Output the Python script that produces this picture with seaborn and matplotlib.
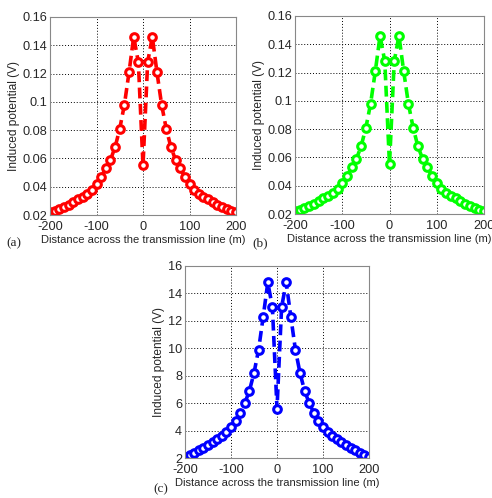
import numpy as np
import pandas as pd
import matplotlib
matplotlib.use("Agg")
import matplotlib.pyplot as plt
import seaborn as sns

# Data
distance = [-200, -190, -180, -170, -160, -150, -140, -130, -120, -110, -100,
            -90, -80, -70, -60, -50, -40, -30, -20, -10, 0,
            10, 20, 30, 40, 50, 60, 70, 80, 90, 100,
            110, 120, 130, 140, 150, 160, 170, 180, 190, 200]
potential_a = [0.022, 0.023, 0.024, 0.026, 0.027, 0.029, 0.031, 0.033, 0.035, 0.038, 0.042,
               0.047, 0.053, 0.059, 0.068, 0.081, 0.098, 0.121, 0.146, 0.128, 0.055,
               0.128, 0.146, 0.121, 0.098, 0.081, 0.068, 0.059, 0.053, 0.047, 0.042,
               0.038, 0.035, 0.033, 0.031, 0.029, 0.027, 0.026, 0.024, 0.023, 0.022]
potential_b = [0.022, 0.023, 0.024, 0.026, 0.027, 0.029, 0.031, 0.033, 0.035, 0.038, 0.042,
               0.047, 0.053, 0.059, 0.068, 0.081, 0.098, 0.121, 0.146, 0.128, 0.055,
               0.128, 0.146, 0.121, 0.098, 0.081, 0.068, 0.059, 0.053, 0.047, 0.042,
               0.038, 0.035, 0.033, 0.031, 0.029, 0.027, 0.026, 0.024, 0.023, 0.022]
potential_c = [2.1, 2.25, 2.4, 2.6, 2.75, 2.95, 3.15, 3.35, 3.6, 3.9, 4.25,
               4.7, 5.3, 6.0, 6.9, 8.2, 9.9, 12.3, 14.8, 13.0, 5.6,
               13.0, 14.8, 12.3, 9.9, 8.2, 6.9, 6.0, 5.3, 4.7, 4.25,
               3.9, 3.6, 3.35, 3.15, 2.95, 2.75, 2.6, 2.4, 2.25, 2.1]

x_ticks = [-200, -100, 0, 100, 200]
y_ticks_ab = [0.02, 0.04, 0.06, 0.08, 0.1, 0.12, 0.14, 0.16]
y_ticks_c = [2, 4, 6, 8, 10, 12, 14, 16]
y_ticklabels_ab = ["0.02", "0.04", "0.06", "0.08", "0.1", "0.12", "0.14", "0.16"]
y_ticklabels_c = ["2", "4", "6", "8", "10", "12", "14", "16"]

sns.set_style("white")
plt.rcParams['font.family'] = ['Liberation Sans', 'DejaVu Sans']

W, H = 492, 498
fig = plt.figure(figsize=(W / 100, H / 100), dpi=100)

def make_ax(l, r, t, b):
    return fig.add_axes([l / W, 1 - b / H, (r - l) / W, (b - t) / H])

panels = [
    (make_ax(50, 236, 17, 215), potential_a, "#ff0000", y_ticks_ab, y_ticklabels_ab, (0.02, 0.16), "(a)", (6, 243)),
    (make_ax(295, 484, 16, 214), potential_b, "#00ff00", y_ticks_ab, y_ticklabels_ab, (0.02, 0.16), "(b)", (252, 243)),
    (make_ax(185, 369, 266, 458), potential_c, "#0000ff", y_ticks_c, y_ticklabels_c, (2, 16), "(c)", (153, 489)),
]

for ax, vals, color, yt, ytl, ylim, tag, tagpos in panels:
    df = pd.DataFrame({"x": distance, "y": vals})
    sns.lineplot(data=df, x="x", y="y", ax=ax, color=color,
                 linewidth=2.6, marker="o", markersize=5.5,
                 markerfacecolor="white", markeredgecolor=color,
                 markeredgewidth=2.2)
    ax.lines[0].set_linestyle((0, (3, 1.5)))
    ax.set_xlim(-200, 200)
    ax.set_ylim(*ylim)
    ax.set_xticks(x_ticks)
    ax.set_xticklabels([str(v) for v in x_ticks])
    ax.set_yticks(yt)
    ax.set_yticklabels(ytl)
    ax.grid(True, color="black", linestyle=(0, (1, 2)), linewidth=0.7)
    ax.tick_params(axis="y", length=0, pad=2)
    ax.tick_params(axis="x", length=0, pad=4)
    for s in ax.spines.values():
        s.set_color("#888888")
        s.set_linewidth(0.8)
    ax.set_xlabel("Distance across the transmission line (m)", fontsize=8.0, labelpad=2)
    ax.set_ylabel("Induced potential (V)", fontsize=8.6, labelpad=2)
    for lbl in ax.get_xticklabels() + ax.get_yticklabels():
        lbl.set_fontsize(9.2)
    fig.text(tagpos[0] / W, 1 - tagpos[1] / H, tag, fontsize=9.5,
             family=['Liberation Serif', 'DejaVu Serif'], va="center", ha="left")

fig.savefig("out.png", dpi=100, facecolor="white")
